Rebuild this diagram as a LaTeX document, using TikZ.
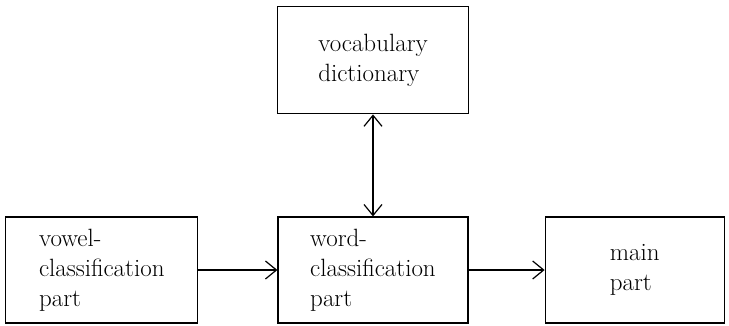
\documentclass[tikz,border=0pt]{standalone}
\usepackage{tikz}
\usetikzlibrary{arrows.meta, positioning}

\begin{document}
\begin{tikzpicture}[->,>={Straight Barb[length=11pt,width=18pt]},x=1pt,y=1pt,line width=1.2pt,
    block/.style={draw, rectangle, minimum height=106pt, align=left,
        font=\fontsize{25}{30}\selectfont}]
			\useasboundingbox (0,0) rectangle (729,-325);
			\node[block, minimum width=190pt] (word) at (373,-270) {word-\\classification\\part};
			\node[block, minimum width=192pt, left=79pt of word]  (vowel) {vowel-\\classification\\part};
			\node[block, minimum width=179pt, right=76pt of word] (main)  {main\\part};
			\node[block, minimum width=191pt, minimum height=107pt, above=102pt of word] (dict) {vocabulary\\dictionary};
			\draw (vowel) -- (word);
			\draw (word)  -- (main);
			\draw[<->] (dict) -- (word);
		\end{tikzpicture}
\end{document}
